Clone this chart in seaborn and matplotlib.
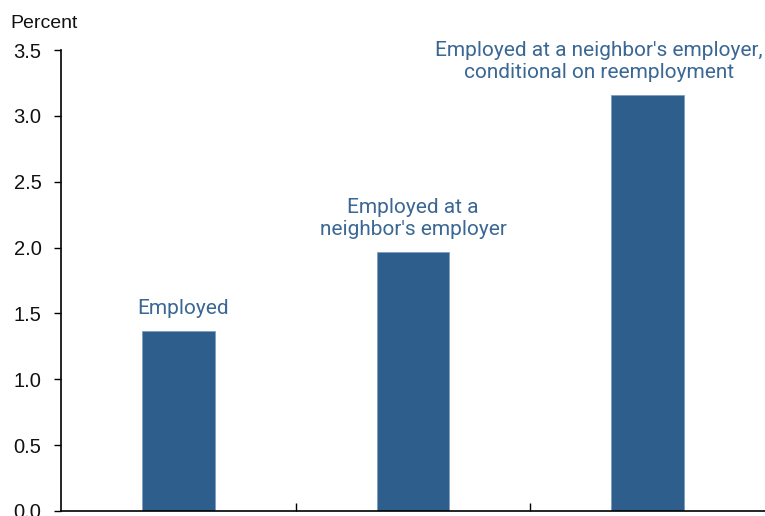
import matplotlib
matplotlib.use("Agg")
import matplotlib.pyplot as plt
import seaborn as sns
import pandas as pd

categories = ["Employed", "Employed at a\nneighbor's employer",
              "Employed at a neighbor's employer,\nconditional on reemployment"]
values = [1.37, 1.97, 3.16]
yticks = [0.0, 0.5, 1.0, 1.5, 2.0, 2.5, 3.0, 3.5]

sns.set_theme(style="white")
plt.rcParams['font.family'] = ['Roboto', 'DejaVu Sans']

df = pd.DataFrame({"cat": categories, "val": values})

fig = plt.figure(figsize=(7.65, 5.16), dpi=100)
ax = fig.add_axes([61/765, 5/516, 1 - 61/765, (511-50)/516])

bar_color = "#2e5e8c"
sns.barplot(data=df, x="cat", y="val", color=bar_color, width=0.31,
            saturation=1, ax=ax, edgecolor="#7f9fc0", linewidth=0.6)

ax.set_xlim(-0.5, 2.5)
ax.set_ylim(0, 3.5)
ax.set_yticks(yticks)
ax.set_yticklabels([f"{t:.1f}" for t in yticks], fontsize=14.5,
                   family=['Liberation Sans', 'DejaVu Sans'])
ax.set_xticks([0.5, 1.5])
ax.set_xticklabels([])
ax.tick_params(axis="x", direction="in", length=6, width=1, colors="black", bottom=True)
ax.tick_params(axis="y", direction="out", length=5, width=1, colors="black",
               left=True, pad=9)
for lab in ax.get_yticklabels():
    lab.set_color("#111111")
ax.set_xlabel("")
ax.set_ylabel("")
for s in ["top", "right"]:
    ax.spines[s].set_visible(False)
for s in ["left", "bottom"]:
    ax.spines[s].set_color("black")
    ax.spines[s].set_linewidth(1.2)

# horizontal shifts (points) so labels sit like the reference
shifts = [3.5, 0, -35]
for i, (c, v) in enumerate(zip(categories, values)):
    ax.annotate(c, xy=(i, v), xytext=(shifts[i], 9), textcoords="offset points",
                ha="center", va="bottom", fontsize=15, color="#3a6794",
                linespacing=1.2)

fig.text(10/765, 1 - 28/516, "Percent", fontsize=14, color="#111111",
         ha="left", va="baseline", family=['Liberation Sans', 'DejaVu Sans'])

fig.savefig("out.png", dpi=100)
